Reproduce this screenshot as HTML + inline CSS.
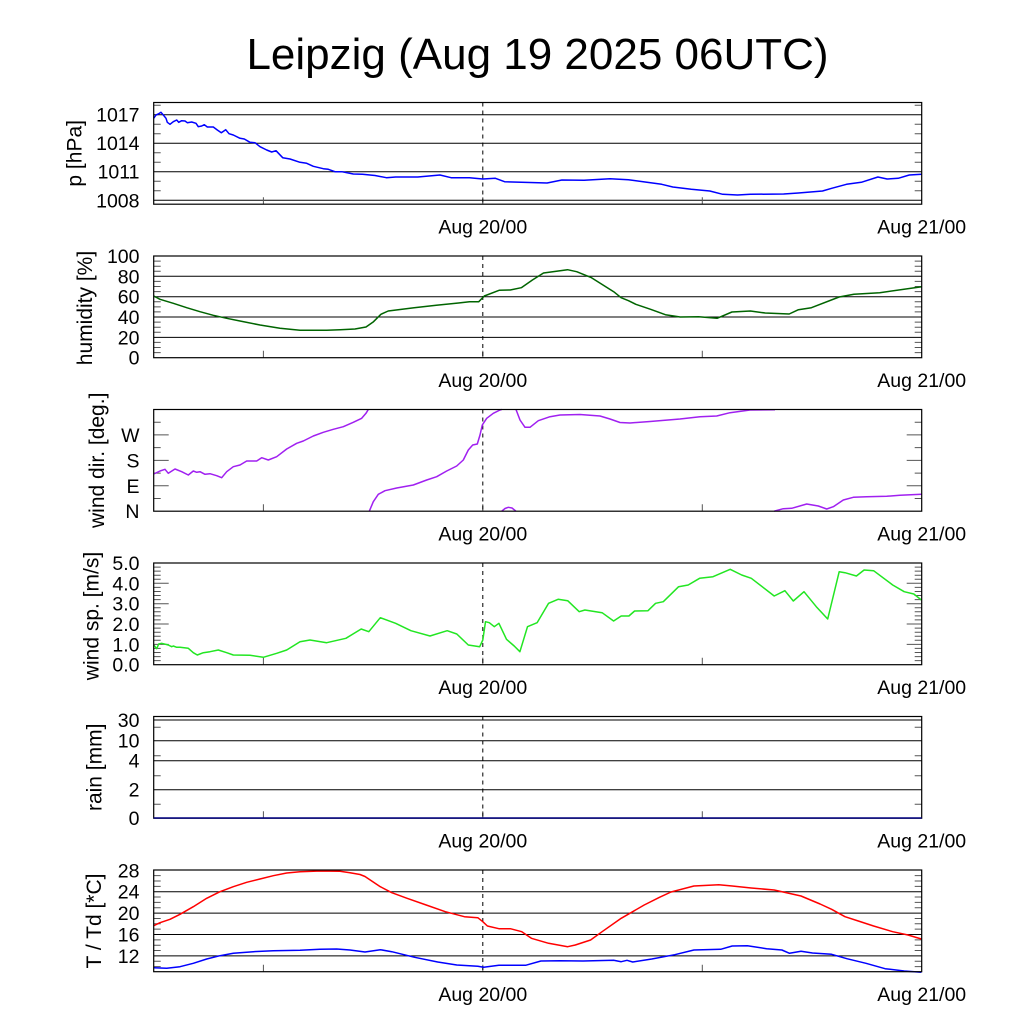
<!DOCTYPE html>
<html>
<head>
<meta charset="utf-8">
<style>
html,body{margin:0;padding:0;background:#fff;}
svg{display:block;}
text{font-family:"Liberation Sans",Arial,sans-serif;fill:#000;}
.tl{font-size:19.5px;text-anchor:end;}
.xl{font-size:19.5px;text-anchor:middle;}
.yl{font-size:21px;text-anchor:middle;}
.grid{stroke:#000;stroke-width:1;}
.frame{fill:none;stroke:#000;stroke-width:1.2;}
.tk{stroke:#555;stroke-width:1;}
.dash{stroke:#000;stroke-width:1;stroke-dasharray:4,4;}
.ln{fill:none;stroke-width:1.5;stroke-linejoin:round;}
</style>
</head>
<body>
<svg width="1024" height="1024" viewBox="0 0 1024 1024" xmlns="http://www.w3.org/2000/svg">
<rect width="1024" height="1024" fill="#fff"/>
<text x="537.5" y="69" style="font-size:44px;text-anchor:middle;">Leipzig (Aug 19 2025 06UTC)</text>

<!-- ============ Panel 1: pressure ============ -->
<g>
<line class="grid" x1="153.7" x2="921.7" y1="114.7" y2="114.7"/>
<line class="grid" x1="153.7" x2="921.7" y1="143.2" y2="143.2"/>
<line class="grid" x1="153.7" x2="921.7" y1="171.7" y2="171.7"/>
<line class="grid" x1="153.7" x2="921.7" y1="200.3" y2="200.3"/>
<path class="tk" d="M153.7 105.2h7M153.7 124.2h7M153.7 133.7h7M153.7 152.7h7M153.7 162.2h7M153.7 181.3h7M153.7 190.8h7
M921.7 105.2h-7M921.7 124.2h-7M921.7 133.7h-7M921.7 152.7h-7M921.7 162.2h-7M921.7 181.3h-7M921.7 190.8h-7
M263.4 204.2v-7M702.3 204.2v-7M482.8 204.2v-7"/>
<line class="dash" x1="482.8" x2="482.8" y1="102.5" y2="204.2"/>
<polyline class="ln" stroke="#0000ff" points="153.7,118.3 156,115 158.3,114 161,112.3 163.3,115 166,118.3 167.3,122.3 170,124.3 173.3,121.7 176.7,120 178.7,122.3 181.7,120.7 185,121 187.3,122.7 191.7,122 196,123.3 198.3,126.7 201.7,126 204.3,124.7 207.3,127 213.3,127 217.3,130 221.3,132.7 225.7,129.7 229,133.7 233.3,135 240,138.3 244.3,139 250,142.3 255,142.7 260,146.7 266.7,150 271.7,152 276,150.7 282.7,157.7 290,159 300,162.3 306.7,163.3 313.3,166.3 323.3,168.7 328.3,169.3 335,171.7 341.7,171.7 353.3,174 362.4,174.3 375,175.5 386.4,177.7 395.6,177 417.8,177 440,175 451.1,177.7 469.5,177.7 482.8,179 495.4,178.3 504.6,181.7 521.3,182.3 547.1,183 561.9,180 584.1,180.3 610,178.7 628.4,179.7 646.9,182.3 661.7,184.3 672.8,187 691.3,189.3 709.8,191 722.7,194.3 737.5,195 750.4,194.3 783.7,194 798.4,193 822.5,191 831.7,188.3 846.5,184.3 861.3,182.3 877.9,177 887.1,179 898.2,178.3 909.3,175 921.7,174.3"/>
<rect class="frame" x="153.7" y="102.5" width="768" height="101.7"/>
<text class="tl" x="139.5" y="121.7">1017</text>
<text class="tl" x="139.5" y="150.2">1014</text>
<text class="tl" x="139.5" y="178.7">1011</text>
<text class="tl" x="139.5" y="207.3">1008</text>
<text class="yl" transform="translate(81.5,153.3) rotate(-90)">p [hPa]</text>
<text class="xl" x="482.8" y="233.5">Aug 20/00</text>
<text class="xl" x="921.7" y="233.5">Aug 21/00</text>
</g>

<!-- ============ Panel 2: humidity ============ -->
<g>
<line class="grid" x1="153.7" x2="921.7" y1="276.3" y2="276.3"/>
<line class="grid" x1="153.7" x2="921.7" y1="296.7" y2="296.7"/>
<line class="grid" x1="153.7" x2="921.7" y1="317" y2="317"/>
<line class="grid" x1="153.7" x2="921.7" y1="337.4" y2="337.4"/>
<path class="tk" d="M153.7 352.6h7M153.7 347.5h7M153.7 342.4h7M153.7 332.3h7M153.7 327.2h7M153.7 322.1h7M153.7 311.9h7M153.7 306.9h7M153.7 301.8h7M153.7 291.6h7M153.7 286.5h7M153.7 281.4h7M153.7 271.3h7M153.7 266.2h7M153.7 261.1h7
M921.7 352.6h-7M921.7 347.5h-7M921.7 342.4h-7M921.7 332.3h-7M921.7 327.2h-7M921.7 322.1h-7M921.7 311.9h-7M921.7 306.9h-7M921.7 301.8h-7M921.7 291.6h-7M921.7 286.5h-7M921.7 281.4h-7M921.7 271.3h-7M921.7 266.2h-7M921.7 261.1h-7
M263.4 357.7v-7M702.3 357.7v-7M482.8 357.7v-7"/>
<line class="dash" x1="482.8" x2="482.8" y1="256" y2="357.7"/>
<polyline class="ln" stroke="#006400" points="153.7,296 160,299.3 173.3,303.3 186.7,307.7 200,311.7 213.3,315.3 226.7,318.3 240,321 260,325 280,328.3 300,330.3 326.7,330.3 340.2,329.7 355,329 366,327 373.5,321.7 380.9,314.3 388.2,311 414.1,307.7 436.3,305.3 458.5,303 469.5,301.7 478.8,301.7 484.3,296 499.1,290.3 510.2,290 521.3,287.7 532.4,280 543.5,273 567.5,269.7 576.7,271.7 591.5,277.7 613.7,291.7 621.1,297.7 628.5,300.7 635.8,304.3 650.6,309.3 665.4,314.7 680.2,317 698.7,316.7 717.1,318.3 731.9,312 750.4,311 765.2,313 789.2,314 798.4,309.7 811.4,307.7 839.1,297 853.9,294.3 879.7,292.7 921.7,286.7"/>
<rect class="frame" x="153.7" y="256" width="768" height="101.7"/>
<text class="tl" x="139.5" y="263">100</text>
<text class="tl" x="139.5" y="283.3">80</text>
<text class="tl" x="139.5" y="303.7">60</text>
<text class="tl" x="139.5" y="324">40</text>
<text class="tl" x="139.5" y="344.4">20</text>
<text class="tl" x="139.5" y="364.7">0</text>
<text class="yl" transform="translate(92,308) rotate(-90)">humidity [%]</text>
<text class="xl" x="482.8" y="387">Aug 20/00</text>
<text class="xl" x="921.7" y="387">Aug 21/00</text>
</g>

<!-- ============ Panel 3: wind dir ============ -->
<g>
<path class="tk" d="M153.7 485.8h15M153.7 460.4h15M153.7 434.9h15M153.7 498.5h7M153.7 473.1h7M153.7 447.6h7M153.7 422.2h7
M921.7 485.8h-15M921.7 460.4h-15M921.7 434.9h-15M921.7 498.5h-7M921.7 473.1h-7M921.7 447.6h-7M921.7 422.2h-7
M263.4 511.2v-7M702.3 511.2v-7M482.8 511.2v-7"/>
<line class="dash" x1="482.8" x2="482.8" y1="409.5" y2="511.2"/>
<g>
<polyline class="ln" stroke="#a020f0" stroke-width="1.8" points="153.7,474 160,471 165,469.3 168.3,473.3 175,469 181.7,471.7 188.3,475 193.3,471 196.7,472.3 200,471.7 205,474.3 210,473.7 216.7,475.7 221.7,477.7 226.7,471.7 233.3,466.7 240,465 246.7,461 256.7,461 261.7,457.7 268.3,460 276.7,456.7 286.7,449 296.7,443.3 303.3,441 313.3,436 323.3,432.3 333.3,429.3 343.3,426.7 353.3,422.3 361.7,418.3 366,413.3 368.3,409.5"/>
<polyline class="ln" stroke="#a020f0" stroke-width="1.8" points="369.3,511.2 373.3,501.7 378.3,494.3 385,490.7 396.7,488 413.3,485 426.7,480 436.7,476.7 446.7,471 456.7,466 463.3,460 468.3,450 472.7,445 477.3,444 480,435 482.3,425 486.7,418.3 493.3,413.3 500,410 501.7,409.5"/>
<polyline class="ln" stroke="#a020f0" stroke-width="1.8" points="516,409.5 520,420 525,427.3 530,427.3 538.3,420.7 550,416.7 560,415 580,414.5 600,416 610,419 620,422.5 630,423 650,421.5 680,419 700,416.7 716.7,416 730,412.7 750,410 775,409.8"/>
<polyline class="ln" stroke="#a020f0" stroke-width="1.8" points="501.7,511.2 505,508.5 508.3,507.3 512,508 516,511.2"/>
<polyline class="ln" stroke="#a020f0" stroke-width="1.8" points="774,511.2 783.3,508.7 791.7,508.3 806.7,504 818.3,506 826.7,509 833.3,506.7 843.3,500 853.3,497.3 866.7,496.7 886.7,496.3 900,495.3 921.7,494.3"/>
</g>
<rect class="frame" x="153.7" y="409.5" width="768" height="101.7"/>
<text class="tl" x="139.5" y="441.9">W</text>
<text class="tl" x="139.5" y="467.4">S</text>
<text class="tl" x="139.5" y="492.8">E</text>
<text class="tl" x="139.5" y="518.2">N</text>
<text class="yl" transform="translate(104,460.3) rotate(-90)">wind dir. [deg.]</text>
<text class="xl" x="482.8" y="540.5">Aug 20/00</text>
<text class="xl" x="921.7" y="540.5">Aug 21/00</text>
</g>

<!-- ============ Panel 4: wind speed ============ -->
<g>
<path class="tk" d="M153.7 644.4h15M153.7 624h15M153.7 603.7h15M153.7 583.3h15
M153.7 660.6h7M153.7 656.6h7M153.7 652.5h7M153.7 648.4h7M153.7 640.3h7M153.7 636.2h7M153.7 632.2h7M153.7 628.1h7M153.7 619.9h7M153.7 615.9h7M153.7 611.8h7M153.7 607.7h7M153.7 599.6h7M153.7 595.5h7M153.7 591.5h7M153.7 587.4h7M153.7 579.3h7M153.7 575.2h7M153.7 571.1h7M153.7 567.1h7
M921.7 644.4h-15M921.7 624h-15M921.7 603.7h-15M921.7 583.3h-15
M921.7 660.6h-7M921.7 656.6h-7M921.7 652.5h-7M921.7 648.4h-7M921.7 640.3h-7M921.7 636.2h-7M921.7 632.2h-7M921.7 628.1h-7M921.7 619.9h-7M921.7 615.9h-7M921.7 611.8h-7M921.7 607.7h-7M921.7 599.6h-7M921.7 595.5h-7M921.7 591.5h-7M921.7 587.4h-7M921.7 579.3h-7M921.7 575.2h-7M921.7 571.1h-7M921.7 567.1h-7
M263.4 664.7v-7M702.3 664.7v-7M482.8 664.7v-7"/>
<line class="dash" x1="482.8" x2="482.8" y1="563" y2="664.7"/>
<polyline class="ln" stroke="#22e622" stroke-width="1.2" points="153.7,645 156.7,648.7 158.7,644 161.7,643.3 168.3,645 171.7,646.7 173.3,646 176.7,647.3 180,647.3 188.3,648.3 193.3,652.7 197.3,655 203.3,652.7 210,651.7 218.3,650 226.7,652.7 233.3,655 250,655.3 263.3,657.3 276.7,653.3 286.7,650 300,641.7 310,640 326.7,642.7 345.9,638.3 361.2,629 368.8,631.7 380.3,617.7 395.6,623.3 410.9,630.7 430,636 447.2,630.7 456.8,634 468.3,645 479.7,646.7 482.8,640 485.5,621.7 489.3,622.7 494.3,626.7 498.9,623.3 506.5,639.3 514.2,646 519.9,651.7 527.5,626.7 537.1,622.7 548.6,603.3 558.1,599.3 567.7,600.7 579.2,611.7 584.9,610 602.1,612.7 613.6,621 621.2,616 628.9,616 634.6,611 648,610.7 655.6,603.3 663.3,601.7 678.6,586.7 688.2,585 699.6,578.3 713,576.7 730.2,569.3 741.7,575 751.3,578.3 774.2,596 784.9,590.7 793.3,601 804,591.7 816.3,606.7 827.7,619 839.2,571.7 845,572.7 856.4,576 864.1,570 873.6,570.7 892.7,585 904.2,591.7 913.8,594 921.4,600"/>
<rect class="frame" x="153.7" y="563" width="768" height="101.7"/>
<text class="tl" x="139.5" y="570">5.0</text>
<text class="tl" x="139.5" y="590.3">4.0</text>
<text class="tl" x="139.5" y="610.7">3.0</text>
<text class="tl" x="139.5" y="631">2.0</text>
<text class="tl" x="139.5" y="651.4">1.0</text>
<text class="tl" x="139.5" y="671.7">0.0</text>
<text class="yl" transform="translate(98.5,616) rotate(-90)">wind sp. [m/s]</text>
<text class="xl" x="482.8" y="694">Aug 20/00</text>
<text class="xl" x="921.7" y="694">Aug 21/00</text>
</g>

<!-- ============ Panel 5: rain ============ -->
<g>
<line class="grid" x1="153.7" x2="921.7" y1="720" y2="720"/>
<line class="grid" x1="153.7" x2="921.7" y1="740.7" y2="740.7"/>
<line class="grid" x1="153.7" x2="921.7" y1="760.7" y2="760.7"/>
<line class="grid" x1="153.7" x2="921.7" y1="789.7" y2="789.7"/>
<path class="tk" d="M153.7 727.3h7M153.7 755.7h7M153.7 775.7h7M153.7 804.3h7
M921.7 727.3h-7M921.7 755.7h-7M921.7 775.7h-7M921.7 804.3h-7
M263.4 818.2v-7M702.3 818.2v-7M482.8 818.2v-7"/>
<line class="dash" x1="482.8" x2="482.8" y1="716.5" y2="818.2"/>
<rect class="frame" x="153.7" y="716.5" width="768" height="101.7"/>
<line x1="153.7" x2="921.7" y1="818" y2="818" stroke="#000080" stroke-width="1.6"/>
<text class="tl" x="139.5" y="727">30</text>
<text class="tl" x="139.5" y="747.7">10</text>
<text class="tl" x="139.5" y="767.7">4</text>
<text class="tl" x="139.5" y="796.7">2</text>
<text class="tl" x="139.5" y="825.2">0</text>
<text class="yl" transform="translate(101.5,767.3) rotate(-90)">rain [mm]</text>
<text class="xl" x="482.8" y="847.5">Aug 20/00</text>
<text class="xl" x="921.7" y="847.5">Aug 21/00</text>
</g>

<!-- ============ Panel 6: temperature ============ -->
<g>
<line class="grid" x1="153.7" x2="921.7" y1="891.7" y2="891.7"/>
<line class="grid" x1="153.7" x2="921.7" y1="913.1" y2="913.1"/>
<line class="grid" x1="153.7" x2="921.7" y1="934.5" y2="934.5"/>
<line class="grid" x1="153.7" x2="921.7" y1="955.9" y2="955.9"/>
<path class="tk" d="M153.7 875.65h7M153.7 881h7M153.7 886.35h7M153.7 897.05h7M153.7 902.4h7M153.7 907.75h7M153.7 918.45h7M153.7 923.8h7M153.7 929.15h7M153.7 939.85h7M153.7 945.2h7M153.7 950.55h7M153.7 961.25h7M153.7 966.6h7
M921.7 875.65h-7M921.7 881h-7M921.7 886.35h-7M921.7 897.05h-7M921.7 902.4h-7M921.7 907.75h-7M921.7 918.45h-7M921.7 923.8h-7M921.7 929.15h-7M921.7 939.85h-7M921.7 945.2h-7M921.7 950.55h-7M921.7 961.25h-7M921.7 966.6h-7
M263.4 971.7v-7M702.3 971.7v-7M482.8 971.7v-7"/>
<line class="dash" x1="482.8" x2="482.8" y1="870" y2="971.7"/>
<polyline class="ln" stroke="#ff0000" stroke-width="1.2" points="153.7,925.7 160,922.7 170,919.3 180,914.3 193.3,906.7 206.7,898.3 220,891.7 233.3,886.7 246.7,882.3 260,879 273.3,875.7 286.7,873 300,871.7 320,871 340,871.3 350,872.7 360,874.5 365,876.5 380.3,886.7 391.8,892.7 407.1,898.3 426.2,905 445.3,911.7 464.4,916.7 477.8,917.7 482.8,921.7 487.4,926 498.9,928.7 510.3,928.7 521.8,931.7 531.4,938.3 548.6,943.3 567.7,946.7 575.3,945 590.6,940 602.1,931.7 621.2,918.3 644.2,905 659.5,897.3 671,892 693.9,886 718.8,884.7 732.2,886 751.2,888 774.2,890 801,896 820.1,904 831.6,909.3 845,916.7 858.3,921 873.6,926 892.7,931.7 908,935 921.4,939"/>
<polyline class="ln" stroke="#0000ff" stroke-width="1.2" points="153.7,967.7 166.7,968.3 180,966.7 193.3,963.3 206.7,959 220,955.7 233.3,953.3 253.3,951.7 273.3,950.7 300,950.3 320,949.3 336.7,949 350,950 365,952 380.3,949.7 391.8,951.7 414.7,957.3 437.7,962 456.8,965 477.8,966.3 483.6,967.3 498.9,965.3 525.6,965.3 540.9,961 560.1,960.7 583,961 613.6,960.3 621.2,961.7 627,960.3 632.7,962 651.8,959 674.8,954.7 693.9,950 720.7,949.3 732.2,946 747.4,945.7 766.6,948.7 781.9,950 789.5,953.3 801,951.3 812.5,953 831.6,954.3 846.9,958.7 866,963.3 885.1,968.7 904.2,971 921.4,972.3"/>
<rect class="frame" x="153.7" y="870" width="768" height="101.7"/>
<text class="tl" x="139.5" y="877.3">28</text>
<text class="tl" x="139.5" y="898.7">24</text>
<text class="tl" x="139.5" y="920.1">20</text>
<text class="tl" x="139.5" y="941.5">16</text>
<text class="tl" x="139.5" y="962.9">12</text>
<text class="yl" transform="translate(101,921) rotate(-90)">T / Td [*C]</text>
<text class="xl" x="482.8" y="1001">Aug 20/00</text>
<text class="xl" x="921.7" y="1001">Aug 21/00</text>
</g>
</svg>
</body>
</html>
